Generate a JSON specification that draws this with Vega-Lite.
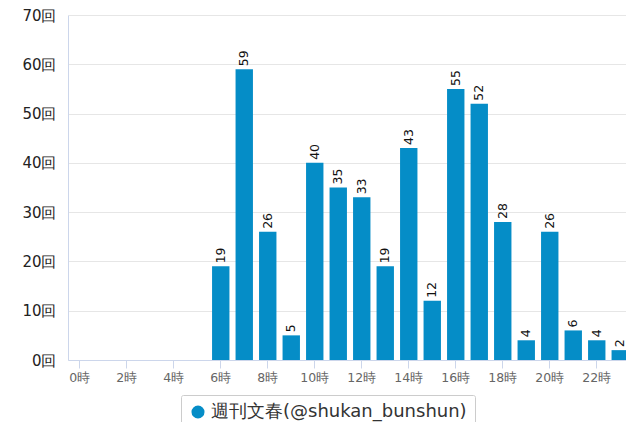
{
  "$schema": "https://vega.github.io/schema/vega-lite/v6.json",
  "autosize": "none",
  "width": 564,
  "height": 345,
  "padding": {"left": 68, "top": 15, "right": 0, "bottom": 62},
  "background": "white",
  "config": {
    "font": "DejaVu Sans",
    "view": {"stroke": null}
  },
  "data": {
    "values": [
      {"hour": 0, "count": 0, "series": "週刊文春(@shukan_bunshun)"},
      {"hour": 1, "count": 0, "series": "週刊文春(@shukan_bunshun)"},
      {"hour": 2, "count": 0, "series": "週刊文春(@shukan_bunshun)"},
      {"hour": 3, "count": 0, "series": "週刊文春(@shukan_bunshun)"},
      {"hour": 4, "count": 0, "series": "週刊文春(@shukan_bunshun)"},
      {"hour": 5, "count": 0, "series": "週刊文春(@shukan_bunshun)"},
      {"hour": 6, "count": 19, "series": "週刊文春(@shukan_bunshun)"},
      {"hour": 7, "count": 59, "series": "週刊文春(@shukan_bunshun)"},
      {"hour": 8, "count": 26, "series": "週刊文春(@shukan_bunshun)"},
      {"hour": 9, "count": 5, "series": "週刊文春(@shukan_bunshun)"},
      {"hour": 10, "count": 40, "series": "週刊文春(@shukan_bunshun)"},
      {"hour": 11, "count": 35, "series": "週刊文春(@shukan_bunshun)"},
      {"hour": 12, "count": 33, "series": "週刊文春(@shukan_bunshun)"},
      {"hour": 13, "count": 19, "series": "週刊文春(@shukan_bunshun)"},
      {"hour": 14, "count": 43, "series": "週刊文春(@shukan_bunshun)"},
      {"hour": 15, "count": 12, "series": "週刊文春(@shukan_bunshun)"},
      {"hour": 16, "count": 55, "series": "週刊文春(@shukan_bunshun)"},
      {"hour": 17, "count": 52, "series": "週刊文春(@shukan_bunshun)"},
      {"hour": 18, "count": 28, "series": "週刊文春(@shukan_bunshun)"},
      {"hour": 19, "count": 4, "series": "週刊文春(@shukan_bunshun)"},
      {"hour": 20, "count": 26, "series": "週刊文春(@shukan_bunshun)"},
      {"hour": 21, "count": 6, "series": "週刊文春(@shukan_bunshun)"},
      {"hour": 22, "count": 4, "series": "週刊文春(@shukan_bunshun)"},
      {"hour": 23, "count": 2, "series": "週刊文春(@shukan_bunshun)"}
    ]
  },
  "encoding": {
    "x": {
      "field": "hour",
      "type": "ordinal",
      "scale": {"paddingInner": 0.26, "paddingOuter": 0.13},
      "axis": {
        "title": null,
        "values": [0, 2, 4, 6, 8, 10, 12, 14, 16, 18, 20, 22],
        "labelExpr": "datum.value + '時'",
        "labelAngle": 0,
        "labelFontSize": 12.5,
        "labelColor": "#666666",
        "labelPadding": 3,
        "domainColor": "#ccd6eb",
        "tickColor": "#ccd6eb",
        "tickSize": 8,
        "grid": false
      }
    },
    "y": {
      "field": "count",
      "type": "quantitative",
      "scale": {"domain": [0, 70]},
      "axis": {
        "title": null,
        "values": [0, 10, 20, 30, 40, 50, 60, 70],
        "labelExpr": "datum.value + '回'",
        "labelFontSize": 15,
        "labelColor": "#222222",
        "labelPadding": 12,
        "ticks": false,
        "domainColor": "#ccd6eb",
        "gridColor": "#e6e6e6"
      }
    }
  },
  "layer": [
    {
      "mark": {"type": "bar", "color": "#058DC7"},
      "encoding": {
        "color": {
          "field": "series",
          "type": "nominal",
          "scale": {"range": ["#058DC7"]},
          "legend": {
            "title": null,
            "orient": "none",
            "legendX": 113,
            "legendY": 380,
            "symbolType": "circle",
            "symbolSize": 170,
            "labelFontSize": 18,
            "labelLimit": 0,
            "labelColor": "#333333",
            "strokeColor": "#cccccc",
            "padding": 8,
            "cornerRadius": 2
          }
        }
      }
    },
    {
      "mark": {"type": "text", "angle": 270, "align": "left", "baseline": "middle", "fontSize": 12.5, "color": "#111111"},
      "encoding": {
        "text": {"field": "count", "type": "quantitative"},
        "yOffset": {"value": -3},
        "opacity": {"condition": {"test": "datum.count > 0", "value": 1}, "value": 0}
      }
    }
  ]
}
